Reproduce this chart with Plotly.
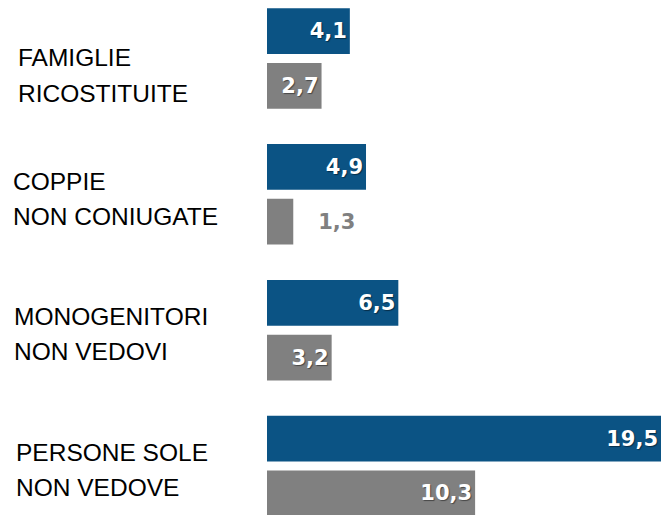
import plotly.graph_objects as go

categorie = ["FAMIGLIE<br>RICOSTITUITE", "COPPIE<br>NON CONIUGATE",
             "MONOGENITORI<br>NON VEDOVI", "PERSONE SOLE<br>NON VEDOVE"]
serie_blu = [4.1, 4.9, 6.5, 19.5]
serie_grigia = [2.7, 1.3, 3.2, 10.3]

BLU = "#0b5384"
GRIGIO = "#808080"

pos = list(range(len(categorie)))


def etichette(valori):
    # numeri all'italiana, quelli troppo corti vanno fuori dalla barra
    testi, posizioni = [], []
    for v in valori:
        s = f"{v:.1f}".replace(".", ",")
        if v < 2:
            testi.append("\u00a0\u00a0\u00a0" + s)
            posizioni.append("outside")
        else:
            testi.append(s)
            posizioni.append("inside")
    return testi, posizioni


fig = go.Figure()
for valori, colore in [(serie_blu, BLU), (serie_grigia, GRIGIO)]:
    testi, posizioni = etichette(valori)
    fig.add_trace(go.Bar(
        x=valori, y=pos, orientation="h",
        marker_color=colore, marker_line_width=0,
        text=testi, textposition=posizioni,
        insidetextanchor="end",
        insidetextfont=dict(family="DejaVu Sans", size=21, color="white",
                            weight="bold", shadow="1px 1px 1px rgba(0,0,0,0.45)"),
        outsidetextfont=dict(family="DejaVu Sans", size=21, color=GRIGIO,
                             weight="bold"),
        cliponaxis=False,
        hoverinfo="skip",
    ))

# etichette di categoria allineate a sinistra, una riga per annotazione
x_sx = [16, 11, 12, 14]
righe_dy = [(-1.5, 34.5), (-13, 22.5), (-14, 21), (-13, 22)]
for i, cat in enumerate(categorie):
    for riga, dy in zip(cat.split("<br>"), righe_dy[i]):
        fig.add_annotation(
            text=riga, xref="paper", yref="y",
            x=(x_sx[i] - 267) / 394, y=pos[i], yshift=-dy,
            xanchor="left", yanchor="middle", align="left", showarrow=False,
            font=dict(family="Liberation Sans, Arial", size=24.5, color="black"),
        )

fig.update_layout(
    width=661, height=515,
    margin=dict(l=267, r=0, t=0, b=0),
    barmode="group", bargap=0.194, bargroupgap=0.164,
    plot_bgcolor="white", paper_bgcolor="white",
    showlegend=False,
)
fig.update_xaxes(range=[0, 19.5], visible=False)
fig.update_yaxes(range=[3.361, -0.431], visible=False)

# niente margine del body, così la figura riempie la finestra
fig.write_html("out.html",
               config={"displayModeBar": False},
               post_script="document.body.style.margin='0';"
                           "document.body.style.overflow='hidden';")
